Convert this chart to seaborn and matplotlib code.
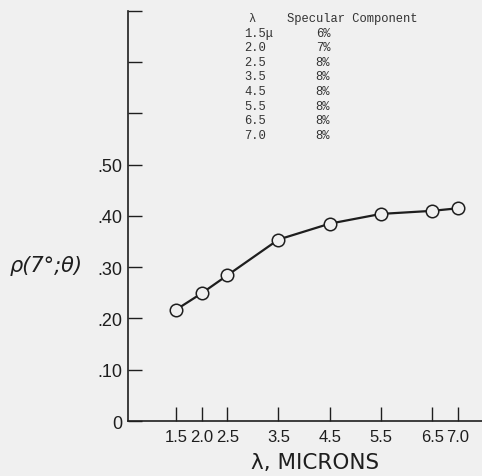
import matplotlib
matplotlib.use("Agg")
import matplotlib.pyplot as plt
import seaborn as sns
import pandas as pd

# data
wavelength = [1.5, 2.0, 2.5, 3.5, 4.5, 5.5, 6.5, 7.0]
reflectance = [0.217, 0.249, 0.284, 0.354, 0.385, 0.404, 0.410, 0.415]
table_lambda = ["1.5\u03bc", "2.0", "2.5", "3.5", "4.5", "5.5", "6.5", "7.0"]
table_specular = ["6%", "7%", "8%", "8%", "8%", "8%", "8%", "8%"]
yticks = [0, 0.1, 0.2, 0.3, 0.4, 0.5, 0.6, 0.7, 0.8]
ytick_labels = ["0", ".10", ".20", ".30", ".40", ".50", "", "", ""]
xtick_labels = ["1.5", "2.0", "2.5", "3.5", "4.5", "5.5", "6.5", "7.0"]

df = pd.DataFrame({"wavelength": wavelength, "rho": reflectance})

sns.set_style("white")
bg = "#f0f0f0"
ink = "#1e1e1e"
plt.rcParams["font.family"] = ["Liberation Sans", "DejaVu Sans"]

fig = plt.figure(figsize=(4.82, 4.77), dpi=100, facecolor=bg)
ax = fig.add_axes([0.265, 0.1153, 0.735, 0.8597])
ax.set_facecolor(bg)

sns.lineplot(data=df, x="wavelength", y="rho", ax=ax, color=ink, linewidth=1.6,
             marker="o", markersize=9, markerfacecolor=bg,
             markeredgecolor=ink, markeredgewidth=1.1)

ax.set_xlim(0.56, 7.47)
ax.set_ylim(0, 0.80)
ax.set_xticks(wavelength)
ax.set_xticklabels(xtick_labels, fontsize=12)
ax.set_yticks(yticks)
ax.set_yticklabels(ytick_labels, fontsize=13)
ax.tick_params(axis="both", direction="in", length=10, width=1, color=ink,
               labelcolor=ink, bottom=True, left=True)
ax.tick_params(axis="x", pad=6)
ax.tick_params(axis="y", pad=4)
for s in ["top", "right"]:
    ax.spines[s].set_visible(False)
for s in ["left", "bottom"]:
    ax.spines[s].set_color(ink)
    ax.spines[s].set_linewidth(1.2)

ax.set_xlabel("\u03bb, MICRONS", fontsize=15.5, color=ink,
              family=["DejaVu Sans"])
ax.xaxis.set_label_coords((315 - 127.7) / (482 - 127.7), -0.075)
ax.set_ylabel("")
fig.text(0.02, 0.442, "\u03c1(7\u00b0;\u03b8)", fontsize=15, color=ink,
         family=["DejaVu Sans"], style="italic", va="center", ha="left")

# specular component table
mono = ["Liberation Mono", "DejaVu Sans Mono"]
top = 1 - 19 / 477
step = 14.6 / 477
tcol = "#333333"
fs = 8.7
fig.text(252 / 482, top, "\u03bb", family=mono, fontsize=fs, color=tcol,
         ha="center", va="center")
fig.text(287 / 482, top, "Specular Component", family=mono, fontsize=fs,
         color=tcol, ha="left", va="center")
for i, (lam, spec) in enumerate(zip(table_lambda, table_specular)):
    y = top - (i + 1) * step
    fig.text(244 / 482, y, lam, family=mono, fontsize=fs, color=tcol,
             ha="left", va="center")
    fig.text(323 / 482, y, spec, family=mono, fontsize=fs, color=tcol,
             ha="center", va="center")

fig.savefig("out.png", dpi=100, facecolor=bg)
